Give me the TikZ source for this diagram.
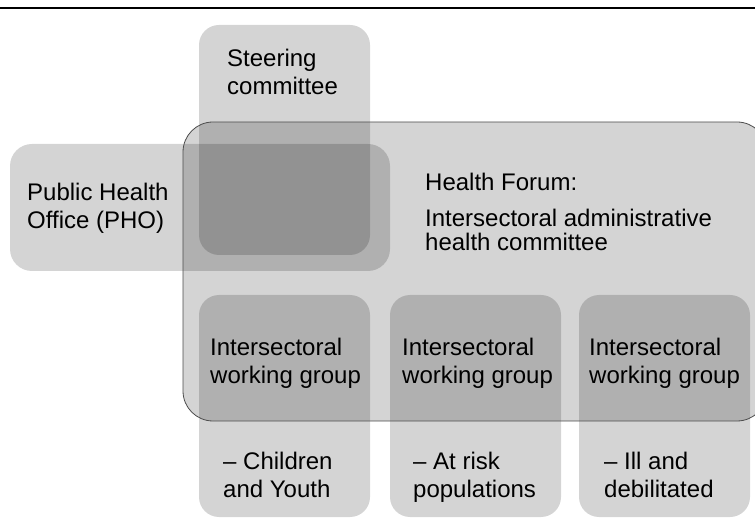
\documentclass[tikz,border=0pt]{standalone}
\usepackage{fontspec}
\setmainfont{Liberation Sans}
\tikzset{
  pane/.style={rectangle, fill=black, fill opacity=0.17, inner sep=0pt, outer sep=0pt, anchor=north west},
  forumpane/.style={pane, draw=black!70, draw opacity=1, line width=0.8pt, rounded corners=30pt},
  lbl/.style={anchor=north west, inner sep=0pt, align=left, text=black, font=\fontsize{24}{28}\selectfont}
}
\begin{document}
\begin{tikzpicture}[x=1pt,y=-1pt]
                \useasboundingbox (0,0) rectangle (755,518);
                \coordinate (topl) at (0,8);
                \coordinate (topr) at (755,8);
                \draw[line width=1.2pt] (topl) -- (topr);

                \node[pane, rounded corners=20pt, minimum width=171pt, minimum height=230pt] (steer) at (199,25) {};
                \node[pane, rounded corners=22pt, minimum width=380pt, minimum height=127pt] (pho) at (10,144) {};
                \node[pane, rounded corners=20pt, minimum width=171pt, minimum height=222pt] (wg1) at (199,295) {};
                \node[pane, rounded corners=20pt, minimum width=171pt, minimum height=222pt] (wg2) at (390,295) {};
                \node[pane, rounded corners=20pt, minimum width=171pt, minimum height=222pt] (wg3) at (579,295) {};
                \node[forumpane, minimum width=584pt, minimum height=299pt] (forum) at (183,122) {};

                \node[lbl] (steertxt) at ([shift={(28,24)}]steer.north west) {Steering\\committee};
                \node[lbl] (photxt) at ([shift={(17,39)}]pho.north west) {Public Health\\Office (PHO)};
                \node[lbl, font=\fontsize{24}{24}\selectfont] (forumtxt) at ([shift={(242,51)}]forum.north west) {Health Forum:\\[12pt]Intersectoral administrative\\health committee};
                \node[lbl] (wg1head) at ([shift={(11,43)}]wg1.north west) {Intersectoral\\working group};
                \node[lbl] (wg2head) at ([shift={(12,43)}]wg2.north west) {Intersectoral\\working group};
                \node[lbl] (wg3head) at ([shift={(10,43)}]wg3.north west) {Intersectoral\\working group};
                \node[lbl] (wg1foot) at ([shift={(24,157)}]wg1.north west) {– Children\\and Youth};
                \node[lbl] (wg2foot) at ([shift={(23,157)}]wg2.north west) {– At risk\\populations};
                \node[lbl] (wg3foot) at ([shift={(25,157)}]wg3.north west) {– Ill and\\debilitated};
            \end{tikzpicture}
\end{document}
